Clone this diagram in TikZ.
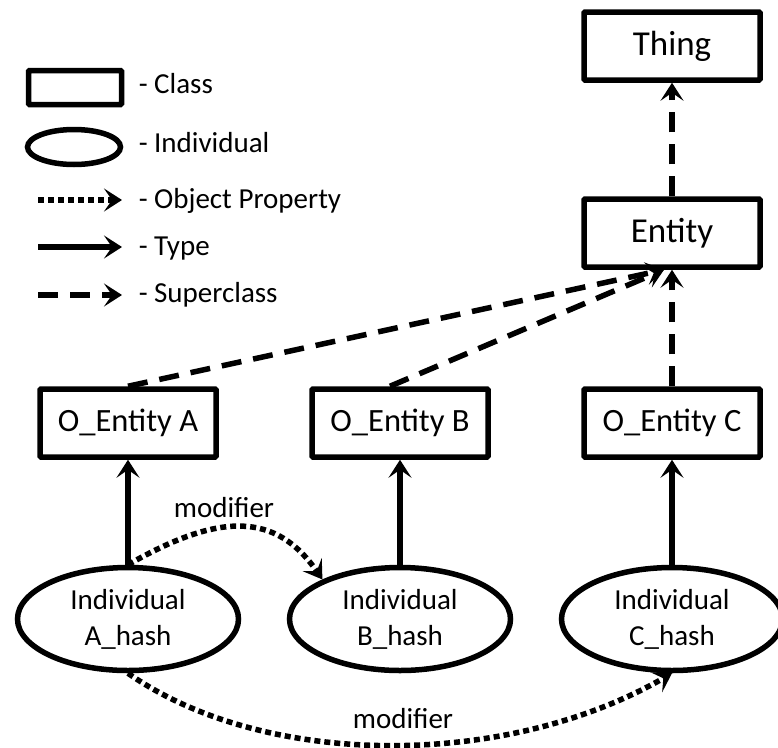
\documentclass[tikz,border=0pt]{standalone}
\usepackage{fontspec}
\setmainfont{Carlito}
\usetikzlibrary{arrows.meta,shapes.geometric}

\begin{document}
\begin{tikzpicture}[x=1pt,y=-1pt,
  line width=5.5pt,
  classbox/.style={draw, rectangle, rounded corners=1pt, minimum width=176pt,
    minimum height=68pt, inner sep=0pt, font=\fontsize{32.5}{38}\selectfont},
  topbox/.style={classbox, font=\fontsize{35}{40}\selectfont},
  indiv/.style={draw, ellipse, minimum width=221pt, minimum height=103pt,
    inner sep=0pt, align=center, font=\fontsize{29}{36}\selectfont},
  legendbox/.style={draw, rectangle, rounded corners=1pt, minimum width=93pt,
    minimum height=34pt, inner sep=0pt},
  legendell/.style={draw, ellipse, minimum width=93pt, minimum height=35pt, inner sep=0pt},
  tip/.style={-{Stealth[length=18pt,width=23pt,inset=8pt]}},
  typeedge/.style={tip},
  superedge/.style={tip, dash pattern=on 20pt off 12pt},
  propedge/.style={tip, dash pattern=on 6pt off 4pt},
  smalltext/.style={inner sep=0pt, font=\fontsize{29}{34}\selectfont},
  legendtext/.style={smalltext, anchor=base west}
]
\useasboundingbox (0,0) rectangle (778,747);

% legend
\node[legendbox] (lclass) at (75,87.5) {};
\node[legendell] (lind) at (74,147) {};
\coordinate (lopA) at (38,200);  \coordinate (lopB) at (122,200);
\coordinate (ltyA) at (38,247);  \coordinate (ltyB) at (122,247);
\coordinate (lscA) at (38,295);  \coordinate (lscB) at (122,295);
\draw[propedge] (lopA) -- (lopB);
\draw[typeedge] (ltyA) -- (ltyB);
\draw[superedge] (lscA) -- (lscB);
\node[legendtext] (tclass) at (136,93) {- Class};
\node[legendtext] (tind) at (136,152) {- Individual};
\node[legendtext] (top) at (136,208) {- Object Property};
\node[legendtext] (tty) at (136,255) {- Type};
\node[legendtext] (tsc) at (136,302) {- Superclass};

% classes
\node[topbox] (thing) at (672,46) {Thing};
\node[topbox] (ent) at (672,233) {Entity};
\node[classbox] (oA) at (128,423) {O\_Entity A};
\node[classbox] (oB) at (400,423) {O\_Entity B};
\node[classbox] (oC) at (672,423) {O\_Entity C};

% individuals
\node[indiv] (iA) at (128,619) {Individual\\A\_hash};
\node[indiv] (iB) at (400,619) {Individual\\B\_hash};
\node[indiv] (iC) at (672,619) {Individual\\C\_hash};

% superclass links
\draw[superedge] (ent.north) -- (thing.south);
\draw[superedge] (oC.north) -- (ent.south);
\draw[superedge] (oA.north) -- ([xshift=-8pt]ent.south);
\draw[superedge] ([xshift=-10pt]oB.north) -- ([xshift=-8pt]ent.south);

% type links
\draw[typeedge] (iA.north) -- (oA.south);
\draw[typeedge] (iB.north) -- (oB.south);
\draw[typeedge] (iC.north) -- (oC.south);

% object properties
\draw[propedge] (iA.north) .. controls (220,512) and (276,512) .. (iB.153);
\draw[propedge] (iA.south) .. controls (265,769) and (506,769) .. (iC.south);
\node[smalltext, anchor=base] (m1) at (224,517) {modifier};
\node[smalltext, anchor=base] (m2) at (403,728) {modifier};
\end{tikzpicture}
\end{document}
